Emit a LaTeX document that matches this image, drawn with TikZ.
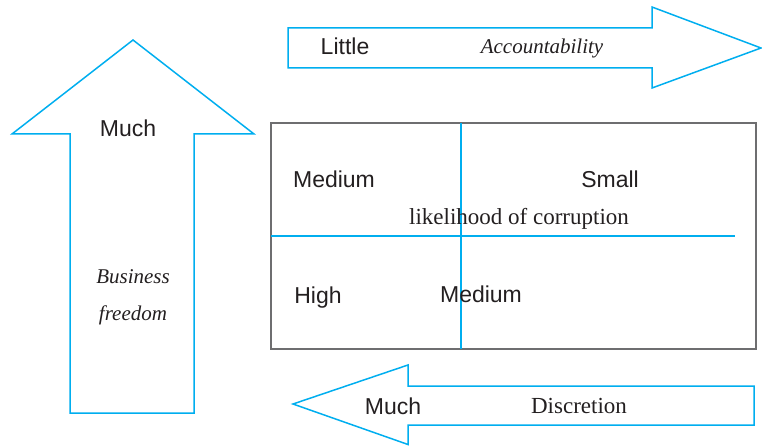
\documentclass[tikz,border=0pt]{standalone}
\usepackage{fontspec}
\setmainfont{Liberation Serif}
\newfontfamily\labelsans{Liberation Sans}
\definecolor{cyanline}{RGB}{0,174,239}
\definecolor{boxgray}{RGB}{110,110,112}
\definecolor{ink}{RGB}{35,31,32}
\begin{document}
\begin{tikzpicture}[x=1pt,y=-1pt,
  bigarrow/.style={draw=cyanline, line width=1.5pt, line join=miter},
  divider/.style={draw=cyanline, line width=1.2pt},
  frame/.style={draw=boxgray, line width=1.8pt},
  sanslabel/.style={font=\labelsans\fontsize{23}{27}\selectfont, text=ink, inner sep=0pt, anchor=base},
  seriflabel/.style={font=\fontsize{23}{27}\selectfont, text=ink, inner sep=0pt, anchor=base},
  itlabel/.style={font=\itshape\fontsize{21}{25}\selectfont, text=ink, inner sep=0pt, anchor=base}]
  \useasboundingbox (0,0) rectangle (762,446);

  % block arrows
  \draw[bigarrow] (288,28) -- (652,28) -- (652,7) -- (761,48) -- (652,88) -- (652,68) -- (288,68) -- cycle;
  \draw[bigarrow] (70,413) -- (70,134) -- (12,134) -- (133,40) -- (254,134) -- (194,134) -- (194,413) -- cycle;
  \draw[bigarrow] (754,386) -- (408,386) -- (408,365) -- (293,404) -- (408,444.5) -- (408,425) -- (754,425) -- cycle;

  % quadrant box
  \coordinate (tl) at (271,123);
  \coordinate (br) at (756,349);
  \draw[frame] (tl) rectangle (br);
  \coordinate (vtop) at (461,123);
  \coordinate (vbot) at (461,349);
  \coordinate (hl) at (271,236);
  \coordinate (hr) at (735,236);
  \draw[divider] (vtop) -- (vbot);
  \draw[divider] (hl) -- (hr);

  % labels
  \node[sanslabel] (little) at (345,55) {Little};
  \node[itlabel] (account) at (542,54) {Accountability};
  \node[sanslabel] (muchup) at (128,137) {Much};
  \node[itlabel] (business) at (133,283) {Business};
  \node[itlabel] (freedom) at (133,320) {freedom};
  \node[sanslabel] (medtl) at (334,188) {Medium};
  \node[sanslabel] (small) at (610,188) {Small};
  \node[seriflabel] (likely) at (519,225) {likelihood of corruption};
  \node[sanslabel] (high) at (318,303) {High};
  \node[sanslabel] (medbr) at (481,302) {Medium};
  \node[sanslabel] (muchleft) at (393,414) {Much};
  \node[seriflabel] (discretion) at (579,413) {Discretion};
\end{tikzpicture}
\end{document}
